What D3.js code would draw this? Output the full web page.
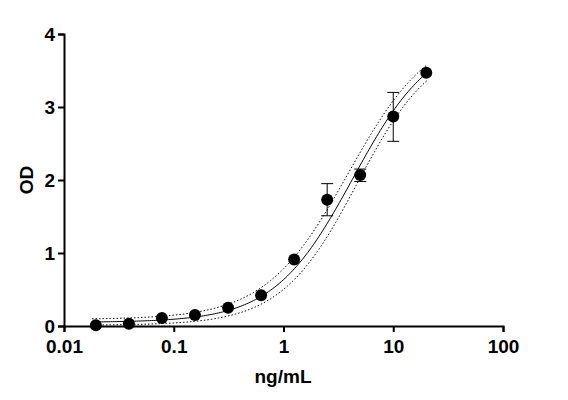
<!DOCTYPE html>
<html>
<head>
<meta charset="utf-8">
<script src="https://cdn.jsdelivr.net/npm/d3@7"></script>
<style>
  body { margin: 0; background: #fff; }
  text { font-family: "Liberation Sans", Arial, sans-serif; font-weight: bold; }
</style>
</head>
<body>
<svg id="chart" width="568" height="400"></svg>
<script>
// measured concentrations (ng/mL) and OD
var conc = [0.0195, 0.039, 0.078, 0.156, 0.3125, 0.625, 1.25, 2.5, 5, 10, 20];
var od   = [0.01, 0.03, 0.11, 0.15, 0.25, 0.42, 0.91, 1.73, 2.07, 2.87, 3.47];
var errLow  = [0, 0, 0, 0, 0, 0, 0, 1.51, 1.98, 2.53, 0];
var errHigh = [0, 0, 0, 0, 0, 0, 0, 1.95, 2.15, 3.20, 0];

// 4PL fit parameters: bottom, top, EC50, hill
var fit   = [0.05, 4.0, 4.3, 1.2];
var bandA = [0.09, 4.1, 3.9, 1.15];
var bandB = [0.01, 3.9, 4.7, 1.25];

var xTicks = [0.01, 0.1, 1, 10, 100];
var yTicks = [0, 1, 2, 3, 4];

var svg = d3.select("#chart");
var x = d3.scaleLog().domain([0.01, 100]).range([64, 503]);
var y = d3.scaleLinear().domain([0, 4]).range([326, 34]);

function fourPL(p) {
    return function (c) { return p[0] + (p[1] - p[0]) / (1 + Math.pow(p[2] / c, p[3])); };
}
var sampleX = d3.range(0, 181).map(function (i) { return 0.018 * Math.pow(10, i * 3.05 / 180); });

function drawCurve(p, dash) {
    var f = fourPL(p);
    svg.append("path")
        .attr("d", d3.line().x(function (c) { return x(c); }).y(function (c) { return y(f(c)); })(sampleX))
        .attr("fill", "none").attr("stroke", "#000")
        .attr("stroke-width", 1)
        .attr("stroke-dasharray", dash);
}
drawCurve(bandA, "1.5,2");
drawCurve(bandB, "1.5,2");
drawCurve(fit, null);

// error bars
conc.forEach(function (c, i) {
    if (errHigh[i] > 0) {
        var g = svg.append("g").attr("stroke", "#000").attr("stroke-width", 1);
        g.append("line").attr("x1", x(c)).attr("x2", x(c)).attr("y1", y(errLow[i])).attr("y2", y(errHigh[i]));
        [errLow[i], errHigh[i]].forEach(function (v) {
            g.append("line").attr("x1", x(c) - 6).attr("x2", x(c) + 6).attr("y1", y(v)).attr("y2", y(v));
        });
    }
});

svg.selectAll("circle.pt").data(conc).enter().append("circle")
    .attr("cx", function (c) { return x(c); })
    .attr("cy", function (c, i) { return y(od[i]); })
    .attr("r", 6).attr("fill", "#000");

// axes
var xAxis = svg.append("g").attr("transform", "translate(0,326)")
    .call(d3.axisBottom(x).tickValues(xTicks).tickFormat(function (d) { return String(d); }).tickSizeOuter(0).tickSize(6));
var yAxis = svg.append("g").attr("transform", "translate(64,0)")
    .call(d3.axisLeft(y).tickValues(yTicks).tickFormat(d3.format("d")).tickSizeOuter(0).tickSize(6));
[xAxis, yAxis].forEach(function (a) {
    a.select(".domain").attr("stroke-width", 2);
    a.selectAll(".tick line").attr("stroke-width", 2);
    a.selectAll("text").style("font-size", "19px").attr("fill", "#000");
});
xAxis.selectAll("text").attr("dy", "0.95em");

svg.append("text").attr("x", 283).attr("y", 383).attr("text-anchor", "middle")
    .style("font-size", "19px").text("ng/mL");
svg.append("text").attr("transform", "translate(33,180) rotate(-90)").attr("text-anchor", "middle")
    .style("font-size", "19px").text("OD");
</script>
</body>
</html>
